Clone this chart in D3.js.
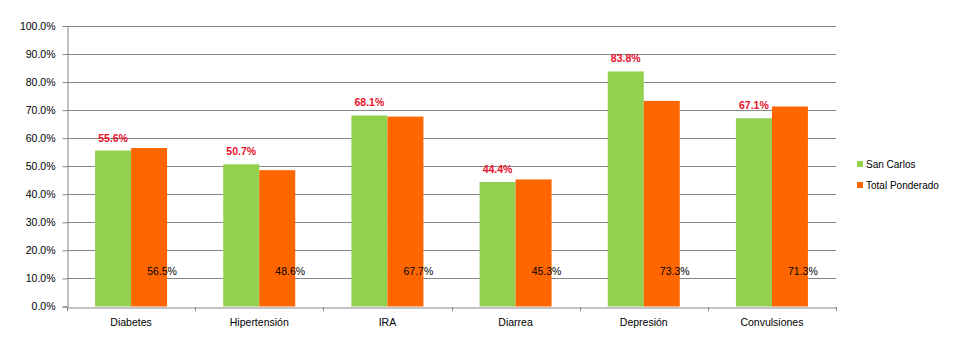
<!DOCTYPE html>
<html><head><meta charset="utf-8">
<script src="https://cdn.jsdelivr.net/npm/d3@7"></script>
<style>body{margin:0;background:#fff;} text{font-family:"Liberation Sans",Arial,sans-serif;}</style>
</head><body><svg id="c" width="959" height="359"></svg>
<script>
const categories = ["Diabetes","Hipertensión","IRA","Diarrea","Depresión","Convulsiones"];
const seriesNames = ["San Carlos","Total Ponderado"];
const sanCarlos = [55.6,50.7,68.1,44.4,83.8,67.1];
const totalPonderado = [56.5,48.6,67.7,45.3,73.3,71.3];
const yTicks = [0,10,20,30,40,50,60,70,80,90,100];
const colors = ["#92D050","#FF6600"];

(function(){
const svg = d3.select("#c");
const pL = 67, pR = 836, pT = 26, pB = 306.5;
const x = d3.scaleBand().domain(categories).range([pL,pR]);
const y = d3.scaleLinear().domain([0,100]).range([pB,pT]);
const barW = 36;

// gridlines
svg.append("g").selectAll("line").data(yTicks.filter(d=>d>0)).join("line")
  .attr("x1",pL).attr("x2",pR).attr("y1",d=>Math.round(y(d))+0.5).attr("y2",d=>Math.round(y(d))+0.5)
  .attr("stroke","#868686").attr("stroke-width",1);

// y axis
const yAxis = d3.axisLeft(y).tickValues(yTicks).tickFormat(d=>d.toFixed(1)+"%").tickSize(5).tickPadding(7);
const gy = svg.append("g").attr("transform",`translate(${pL+0.5},0)`).call(yAxis);
gy.selectAll("path,line").attr("stroke","#868686");
gy.selectAll("text").attr("font-size","10.5px").attr("fill","#000");

// bars
const groups = [sanCarlos,totalPonderado];
groups.forEach((vals,si)=>{
  svg.append("g").selectAll("rect").data(vals).join("rect")
    .attr("x",(d,i)=>x(categories[i])+x.bandwidth()/2 + (si===0?-barW:0))
    .attr("width",barW)
    .attr("y",d=>y(d)).attr("height",d=>pB-y(d))
    .attr("fill",colors[si]);
});

// x axis
const xAxis = d3.axisBottom(x).tickSize(0).tickPadding(11);
const gx = svg.append("g").attr("transform",`translate(0,${Math.round(pB)+0.5})`).call(xAxis);
gx.select("path").attr("stroke","#868686");
gx.selectAll("text").attr("font-size","10.5px").attr("fill","#000");
const bounds = categories.map(c=>x(c)).concat([pR]);
svg.append("g").selectAll("line").data(bounds).join("line")
  .attr("x1",d=>Math.round(d)+0.5).attr("x2",d=>Math.round(d)+0.5)
  .attr("y1",Math.round(pB)).attr("y2",Math.round(pB)+4)
  .attr("stroke","#868686");

// labels San Carlos (red bold above bars)
svg.append("g").selectAll("text").data(sanCarlos).join("text")
  .attr("x",(d,i)=>x(categories[i])+x.bandwidth()/2-barW/2)
  .attr("y",d=>y(d)-9)
  .attr("text-anchor","middle").attr("font-size","10.5px").attr("font-weight","bold")
  .attr("fill","#E8102A").text(d=>d.toFixed(1)+"%");

// labels Total Ponderado (black, low)
svg.append("g").selectAll("text").data(totalPonderado).join("text")
  .attr("x",(d,i)=>x(categories[i])+x.bandwidth()/2+barW/2+13)
  .attr("y",275)
  .attr("text-anchor","middle").attr("font-size","10.5px")
  .attr("fill","#000").text(d=>d.toFixed(1)+"%");

// legend
const leg = svg.append("g").selectAll("g").data(seriesNames).join("g")
  .attr("transform",(d,i)=>`translate(857,${161+i*21})`);
leg.append("rect").attr("width",6).attr("height",6).attr("fill",(d,i)=>colors[i]);
leg.append("text").attr("x",9).attr("y",6.5).attr("font-size","10px").attr("fill","#000").text(d=>d);
})();
</script></body></html>
